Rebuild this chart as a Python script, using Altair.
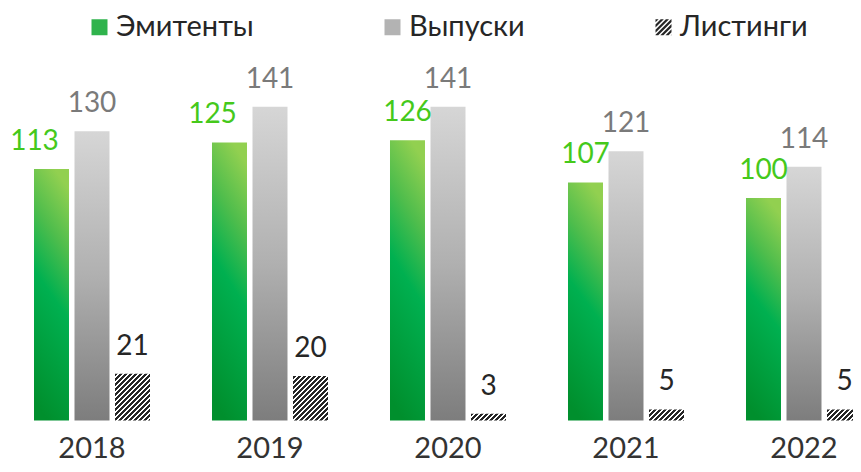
import altair as alt
import pandas as pd

# ---- data ----
years = ["2018", "2019", "2020", "2021", "2022"]
series = ["Эмитенты", "Выпуски", "Листинги"]
emitters = [113, 125, 126, 107, 100]
issues = [130, 141, 141, 121, 114]
listings = [21, 20, 3, 5, 5]

rows = []
for i, y in enumerate(years):
    rows.append({"year": y, "series": series[0], "value": emitters[i]})
    rows.append({"year": y, "series": series[1], "value": issues[i]})
    rows.append({"year": y, "series": series[2], "value": listings[i]})
df = pd.DataFrame(rows)

# ---- layout / style ----
FONT = "Lato"
PLOT_W = 845
PLOT_H = 356
Y_MAX = 160
PX_PER_UNIT = PLOT_H / Y_MAX
BAR_W = 35.0

DARK = "#262626"
GREEN_TXT = "#45c91b"
GREY_TXT = "#7a7a7a"

green_grad = {
    "gradient": "linear", "x1": 0.6, "y1": 0, "x2": 0.4, "y2": 1,
    "stops": [
        {"offset": 0.0, "color": "#92d050"},
        {"offset": 0.25, "color": "#4fbd4c"},
        {"offset": 0.5, "color": "#00b050"},
        {"offset": 1.0, "color": "#008f2d"},
    ],
}
grey_grad = {
    "gradient": "linear", "x1": 0, "y1": 0, "x2": 0, "y2": 1,
    "stops": [
        {"offset": 0.0, "color": "#d6d6d6"},
        {"offset": 0.5, "color": "#b0b0b0"},
        {"offset": 1.0, "color": "#7d7d7d"},
    ],
}


def hatch_grad(h, w=BAR_W, period=5.0, frac=0.6):
    """Diagonal '/' stripes as a hard-stop linear gradient for a w x h box."""
    L = w + h
    k = L / (w * w + h * h)
    pt = period / L
    stops = []
    t = 0.0
    while t < 1.0:
        b = min(t + frac * pt, 1.0)
        c = min(t + pt, 1.0)
        stops += [
            {"offset": round(t, 5), "color": DARK},
            {"offset": round(b, 5), "color": DARK},
            {"offset": round(b, 5), "color": "#ffffff"},
            {"offset": round(c, 5), "color": "#ffffff"},
        ]
        t += pt
    return {"gradient": "linear", "x1": 0, "y1": 0,
            "x2": round(w * k, 5), "y2": round(h * k, 5), "stops": stops}


def clip(poly, a, b, c):
    # keep a*x + b*y <= c
    out = []
    n = len(poly)
    for i in range(n):
        p, q = poly[i], poly[(i + 1) % n]
        fp = a * p[0] + b * p[1] - c
        fq = a * q[0] + b * q[1] - c
        if fp <= 0:
            out.append(p)
        if (fp < 0 < fq) or (fq < 0 < fp):
            t = fp / (fp - fq)
            out.append((p[0] + t * (q[0] - p[0]), p[1] + t * (q[1] - p[1])))
    return out


def hatch_symbol(period=0.65, frac=0.6):
    sq = [(-1, -1), (1, -1), (1, 1), (-1, 1)]
    parts = []
    lo = -2.0
    while lo < 2.0:
        hi = lo + frac * period
        poly = clip(clip(sq, -1, -1, -lo), 1, 1, hi)
        if len(poly) >= 3:
            parts.append("M" + "L".join(f"{x:.3f},{y:.3f}" for x, y in poly) + "Z")
        lo += period
    return "".join(parts)


SQUARE = "M-1,-1L1,-1L1,1L-1,1Z"
HATCH = hatch_symbol()

legend = alt.Legend(
    title=None, orient="none", legendX=77, legendY=-52, direction="horizontal",
    labelFont=FONT, labelFontSize=29, labelColor=DARK, labelOffset=2,
    symbolSize=256, symbolOpacity=1, symbolStrokeWidth=0,
    columnPadding=124, padding=0, gridAlign="each",
)

base = alt.Chart(df).encode(
    x=alt.X(
        "year:N", sort=years,
        scale=alt.Scale(range=[26, 854], paddingInner=0.3483, paddingOuter=0),
        axis=alt.Axis(title=None, labelAngle=0, domain=False, ticks=False, tickSize=0,
                      grid=False, labelFont=FONT, labelFontSize=29, labelColor="#333333",
                      labelBaseline="alphabetic", labelPadding=37),
    ),
    xOffset=alt.XOffset("series:N", sort=series,
                        scale=alt.Scale(domain=series, paddingInner=0.136, paddingOuter=0)),
    y=alt.Y("value:Q", scale=alt.Scale(domain=[0, Y_MAX], nice=False, zero=True), axis=None),
)

legend_layer = base.mark_point(filled=True, opacity=0, size=1).encode(
    color=alt.Color("series:N", scale=alt.Scale(domain=series, range=["#2fb34c", "#b3b3b3", DARK]),
                    legend=legend),
    shape=alt.Shape("series:N", scale=alt.Scale(domain=series, range=[SQUARE, SQUARE, HATCH]),
                    legend=legend),
)

S0, S1, S2 = (f"datum.series == '{s}'" for s in series)
green_bars = base.transform_filter(S0).mark_bar(fill=green_grad)
grey_bars = base.transform_filter(S1).mark_bar(fill=grey_grad)
hatch_layers = [
    base.transform_filter(f"{S2} && datum.year == '{y}'")
    .mark_bar(fill=hatch_grad(v * PX_PER_UNIT))
    for y, v in zip(years, listings)
]

EARLY = "indexof(['2018', '2019'], datum.year) >= 0"
txt = dict(baseline="alphabetic", dy=-19, font=FONT, fontSize=28)
lab_green_shift = base.transform_filter(f"{S0} && {EARLY}").mark_text(
    color=GREEN_TXT, dx=-17, **txt).encode(text="value:Q")
lab_green = base.transform_filter(f"{S0} && !({EARLY})").mark_text(
    color=GREEN_TXT, **txt).encode(text="value:Q")
lab_grey = base.transform_filter(S1).mark_text(color=GREY_TXT, **txt).encode(text="value:Q")
lab_list = base.transform_filter(S2).mark_text(color=DARK, **txt).encode(text="value:Q")

chart = alt.layer(
    legend_layer, green_bars, grey_bars, *hatch_layers,
    lab_green_shift, lab_green, lab_grey, lab_list,
).properties(
    width=PLOT_W, height=PLOT_H,
    autosize=alt.AutoSizeParams(type="none"),
    padding={"left": 0, "top": 56.5, "right": 0, "bottom": 43.5},
).configure_view(strokeWidth=0)

chart.save("out.html", embed_options={"renderer": "svg", "actions": False})
